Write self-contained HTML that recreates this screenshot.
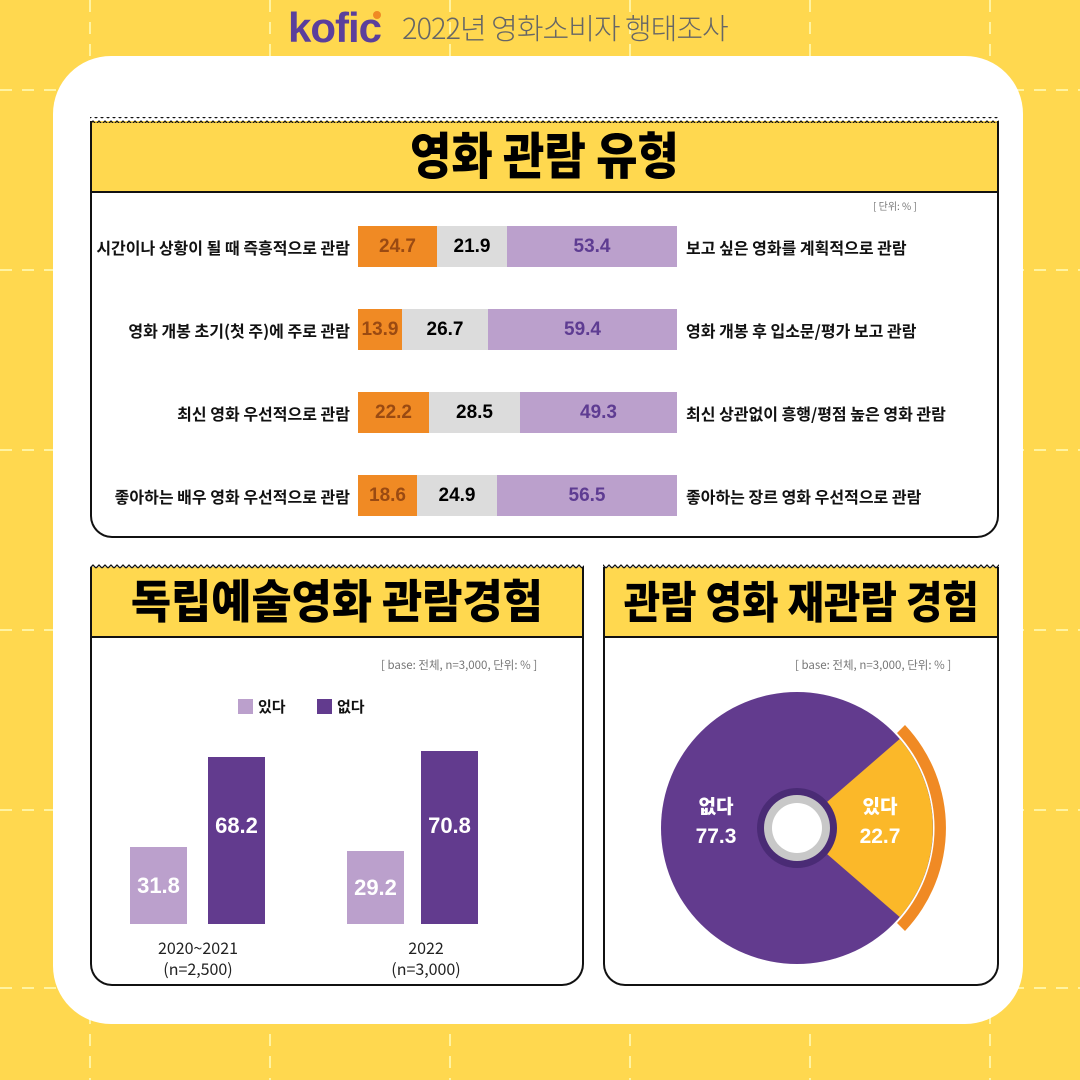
<!DOCTYPE html>
<html><head><meta charset="utf-8">
<style>
*{margin:0;padding:0;box-sizing:border-box}
body{width:1080px;height:1080px;overflow:hidden;background:#FFD84F;position:relative;font-family:"Liberation Sans","Noto Sans CJK KR",sans-serif}
.a{position:absolute}
.panel{left:53px;top:56px;width:970px;height:968px;background:#fff;border-radius:58px}
.box{border:2px solid #111;border-top:none;border-radius:0 0 22px 22px;background:#fff}
.ban{background:#FFD84F;border:2px solid #111;border-top:none;display:flex;align-items:center;justify-content:center;font-family:"Noto Sans CJK KR",sans-serif;font-weight:900;color:#000;white-space:nowrap}
.lbl{font-family:"Noto Sans CJK KR",sans-serif;font-weight:700;font-size:16px;color:#111;white-space:nowrap}
.seg{position:absolute;height:41px;display:flex;align-items:center;justify-content:center;font-weight:bold;font-size:19px}
.o{background:#F08A24;color:#9A4A12}.g{background:#DCDCDC;color:#000}.p{background:#BBA0CC;color:#5E3C92}
.bar{position:absolute;display:flex;align-items:center;justify-content:center;color:#fff;font-weight:bold;font-size:22px}
.note{font-family:"Noto Sans CJK KR",sans-serif;font-size:11.5px;color:#777;white-space:nowrap}
.xl{font-family:"Noto Sans CJK KR",sans-serif;font-size:16px;color:#222;text-align:center;line-height:21px}
</style></head><body>
<svg class="a" style="left:0;top:0" width="1080" height="1080">
<g stroke="#FFF3A0" stroke-width="2" stroke-dasharray="12 10" fill="none">
<line x1="90" y1="0" x2="90" y2="1080"/><line x1="270" y1="0" x2="270" y2="1080"/><line x1="450" y1="0" x2="450" y2="1080"/><line x1="630" y1="0" x2="630" y2="1080"/><line x1="810" y1="0" x2="810" y2="1080"/><line x1="990" y1="0" x2="990" y2="1080"/>
<line x1="0" y1="90" x2="1080" y2="90"/><line x1="0" y1="270" x2="1080" y2="270"/><line x1="0" y1="450" x2="1080" y2="450"/><line x1="0" y1="630" x2="1080" y2="630"/><line x1="0" y1="810" x2="1080" y2="810"/><line x1="0" y1="988" x2="1080" y2="988"/>
</g></svg>
<div class="a" style="left:288px;top:4px;font-family:'Liberation Sans',sans-serif;font-weight:bold;font-size:42px;color:#5B3F9C;letter-spacing:-1px">kofic</div>
<div class="a" style="left:373px;top:11px;width:8px;height:8px;border-radius:50%;background:#F08A24"></div>
<div class="a" style="left:402px;top:6px;font-family:'Noto Sans CJK KR',sans-serif;font-weight:300;font-size:29px;color:#666;letter-spacing:-1px">2022년 영화소비자 행태조사</div>

<div class="a panel"></div>

<div class="a box" style="left:90px;top:190px;width:909px;height:348px"></div>
<div class="a ban" style="left:90px;top:121px;width:909px;height:72px;font-size:50px"><span style="display:inline-block;transform:scaleX(0.9);margin-top:-6px">영화 관람 유형</span></div>
<div class="a note" style="left:873px;top:198px;font-size:10px">[ 단위: % ]</div>

<div class="a lbl" style="right:730px;top:235px">시간이나 상황이 될 때 즉흥적으로 관람</div>
<div class="a lbl" style="right:730px;top:318px">영화 개봉 초기(첫 주)에 주로 관람</div>
<div class="a lbl" style="right:730px;top:401px">최신 영화 우선적으로 관람</div>
<div class="a lbl" style="right:730px;top:484px">좋아하는 배우 영화 우선적으로 관람</div>
<div class="a lbl" style="left:686px;top:235px">보고 싶은 영화를 계획적으로 관람</div>
<div class="a lbl" style="left:686px;top:318px">영화 개봉 후 입소문/평가 보고 관람</div>
<div class="a lbl" style="left:686px;top:401px">최신 상관없이 흥행/평점 높은 영화 관람</div>
<div class="a lbl" style="left:686px;top:484px">좋아하는 장르 영화 우선적으로 관람</div>

<div class="seg o" style="left:358px;top:226px;width:79px">24.7</div><div class="seg g" style="left:437px;top:226px;width:70px">21.9</div><div class="seg p" style="left:507px;top:226px;width:170px">53.4</div>
<div class="seg o" style="left:358px;top:309px;width:44px">13.9</div><div class="seg g" style="left:402px;top:309px;width:86px">26.7</div><div class="seg p" style="left:488px;top:309px;width:189px">59.4</div>
<div class="seg o" style="left:358px;top:392px;width:71px">22.2</div><div class="seg g" style="left:429px;top:392px;width:91px">28.5</div><div class="seg p" style="left:520px;top:392px;width:157px">49.3</div>
<div class="seg o" style="left:358px;top:475px;width:59px">18.6</div><div class="seg g" style="left:417px;top:475px;width:80px">24.9</div><div class="seg p" style="left:497px;top:475px;width:180px">56.5</div>

<div class="a box" style="left:90px;top:636px;width:494px;height:350px"></div>
<div class="a ban" style="left:90px;top:567px;width:494px;height:71px;font-size:46px"><span style="display:inline-block;transform:scaleX(0.95);margin-top:-6px">독립예술영화 관람경험</span></div>
<div class="a note" style="left:381px;top:657px">[ base: 전체, n=3,000, 단위: % ]</div>
<div class="a" style="left:238px;top:699px;width:15px;height:15px;background:#BBA0CC"></div>
<div class="a lbl" style="left:258px;top:696px;font-size:15px">있다</div>
<div class="a" style="left:317px;top:699px;width:15px;height:15px;background:#623B8E"></div>
<div class="a lbl" style="left:337px;top:696px;font-size:15px">없다</div>
<div class="bar" style="left:130px;top:847px;width:57px;height:77px;background:#BBA0CC">31.8</div>
<div class="bar" style="left:208px;top:757px;width:57px;height:167px;background:#623B8E;align-items:flex-start;padding-top:56px">68.2</div>
<div class="bar" style="left:347px;top:851px;width:57px;height:73px;background:#BBA0CC">29.2</div>
<div class="bar" style="left:421px;top:751px;width:57px;height:173px;background:#623B8E;align-items:flex-start;padding-top:62px">70.8</div>
<div class="a xl" style="left:138px;top:937px;width:120px">2020~2021<br>(n=2,500)</div>
<div class="a xl" style="left:366px;top:937px;width:120px">2022<br>(n=3,000)</div>

<div class="a box" style="left:603px;top:636px;width:396px;height:350px"></div>
<div class="a ban" style="left:603px;top:567px;width:396px;height:71px;font-size:44px"><span style="display:inline-block;transform:scaleX(0.9);margin-top:-6px">관람 영화 재관람 경험</span></div>
<div class="a note" style="left:795px;top:657px">[ base: 전체, n=3,000, 단위: % ]</div>
<svg class="a" style="left:0;top:0" width="1080" height="1080">
<circle cx="797" cy="828" r="136" fill="#623B8E"/>
<path d="M797,828 L899.7,739 A136,136 0 0 1 899.7,917 Z" fill="#FBB829"/>
<path d="M905,725 A150,150 0 0 1 905,931 L897,923 A139,139 0 0 0 897,733 Z" fill="#F08A24"/>
<circle cx="797" cy="828" r="40" fill="#4A2B75"/>
<circle cx="797" cy="828" r="33" fill="#C8C8C8"/>
<circle cx="797" cy="828" r="25" fill="#fff"/>
<text x="716" y="813" fill="#fff" font-family="Noto Sans CJK KR,sans-serif" font-weight="900" font-size="19" text-anchor="middle">없다</text>
<text x="716" y="843" fill="#fff" font-family="Liberation Sans,sans-serif" font-weight="bold" font-size="21" text-anchor="middle">77.3</text>
<text x="880" y="813" fill="#fff" font-family="Noto Sans CJK KR,sans-serif" font-weight="900" font-size="19" text-anchor="middle">있다</text>
<text x="880" y="843" fill="#fff" font-family="Liberation Sans,sans-serif" font-weight="bold" font-size="21" text-anchor="middle">22.7</text>
<pattern id="zp" width="6" height="6" patternUnits="userSpaceOnUse"><path d="M0,4 L3,1 L6,4" fill="none" stroke="#111" stroke-width="1.3"/></pattern>
<rect x="90" y="117" width="909" height="6" fill="url(#zp)"/>
<rect x="90" y="563" width="494" height="6" fill="url(#zp)"/>
<rect x="603" y="563" width="396" height="6" fill="url(#zp)"/>
</svg>
</body></html>
